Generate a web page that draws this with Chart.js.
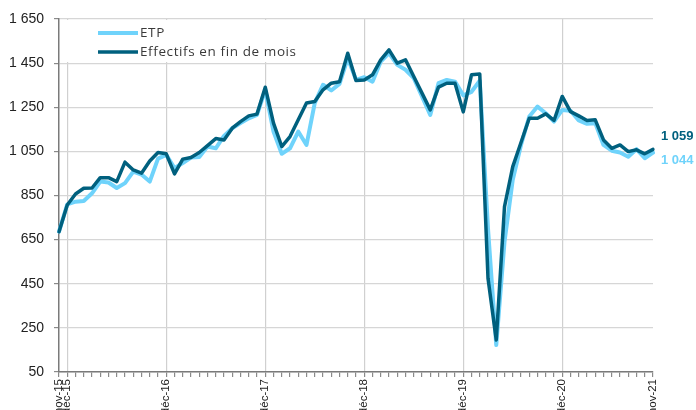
<!DOCTYPE html>
<html>
<head>
<meta charset="utf-8">
<script src="https://cdn.jsdelivr.net/npm/chart.js@4"></script>
<style>
  body { margin: 0; background: #fff; overflow: hidden; }
</style>
</head>
<body>
<canvas id="my-chart" width="696" height="430"></canvas>
<script>
const monthNames = ["janv", "févr", "mars", "avr", "mai", "juin", "juil", "août", "sept", "oct", "nov", "déc"];
const shownLabels = ["nov-15", "déc-15", "déc-16", "déc-17", "déc-18", "déc-19", "déc-20", "nov-21"];

// monthly labels nov-15 .. nov-21
let months = [];
for (let y = 15; y <= 21; y++) {
  for (let m = 0; m < 12; m++) {
    if (y === 15 && m < 10) continue;
    if (y === 21 && m > 10) continue;
    months.push(monthNames[m] + "-" + y);
  }
}

const etp = [
  686, 810, 822, 825, 860, 913, 909, 884, 906, 958, 945, 913,
  1017, 1034, 974, 997, 1022, 1024, 1072, 1064, 1120, 1155, 1178, 1200,
  1215, 1329, 1140, 1039, 1064, 1140, 1079, 1269, 1352, 1326, 1356, 1473,
  1374, 1386, 1366, 1457, 1495, 1442, 1420, 1382, 1299, 1215, 1359, 1374,
  1366, 1304, 1320, 1370, 700, 172, 640, 921, 1079, 1208, 1253, 1223,
  1185, 1238, 1234, 1190, 1175, 1178, 1079, 1053, 1045, 1026, 1060, 1019,
  1044
];

const effectifs = [
  686, 807, 857, 883, 884, 931, 931, 913, 1001, 966, 951, 1006,
  1045, 1039, 948, 1015, 1022, 1045, 1076, 1108, 1102, 1155, 1185, 1211,
  1219, 1341, 1178, 1072, 1117, 1193, 1269, 1276, 1329, 1359, 1366, 1495,
  1371, 1374, 1397, 1465, 1510, 1450, 1465, 1389, 1314, 1238, 1341, 1359,
  1359, 1229, 1397, 1401, 475, 195, 800, 981, 1090, 1200, 1200, 1220,
  1190, 1299, 1230, 1211, 1190, 1193, 1102, 1064, 1079, 1049, 1057, 1039,
  1059
];

const lightBlue = "#6fd3fb";
const darkBlue = "#00607e";
const narrow = "'Liberation Sans Narrow', 'Liberation Sans', Arial, sans-serif";

function spaced(v) {
  return String(v).replace(/\B(?=(\d{3})+(?!\d))/g, " ");
}

// legend box drawn inside the plot, on top of the grid
const insideLegend = {
  id: "insideLegend",
  beforeDatasetsDraw(chart) {
    const ctx = chart.ctx;
    const area = chart.chartArea;
    ctx.save();
    ctx.fillStyle = "#fff";
    ctx.fillRect(area.left + 2, area.top + 1, 262, 42);
    const items = [chart.data.datasets[0], chart.data.datasets[1]];
    items.forEach((ds, i) => {
      const y = area.top + 14 + i * 19;
      ctx.strokeStyle = ds.borderColor;
      ctx.lineWidth = ds.borderWidth;
      ctx.beginPath();
      ctx.moveTo(area.left + 39, y);
      ctx.lineTo(area.left + 79, y);
      ctx.stroke();
      ctx.fillStyle = "#3a3a3a";
      ctx.font = "13.5px 'Open Sans', Lato, sans-serif";
      ctx.letterSpacing = "0.6px";
      ctx.textBaseline = "middle";
      ctx.textAlign = "left";
      ctx.fillText(ds.label, area.left + 81, y);
    });
    ctx.restore();
  }
};

// last values written at the right end of the lines
const endValues = {
  id: "endValues",
  afterDatasetsDraw(chart) {
    const ctx = chart.ctx;
    const yScale = chart.scales.y;
    const x = chart.chartArea.right + 8;
    const lastDark = effectifs[effectifs.length - 1];
    const lastLight = etp[etp.length - 1];
    ctx.save();
    ctx.font = "bold 13px " + narrow;
    ctx.textAlign = "left";
    ctx.textBaseline = "middle";
    ctx.fillStyle = darkBlue;
    ctx.fillText(spaced(lastDark), x, yScale.getPixelForValue(lastDark) - 13);
    ctx.fillStyle = lightBlue;
    ctx.fillText(spaced(lastLight), x, yScale.getPixelForValue(lastLight) + 8);
    ctx.restore();
  }
};

const ctx = document.getElementById("my-chart").getContext("2d");
const myChart = new Chart(ctx, {
  type: "line",
  data: {
    labels: months,
    datasets: [
      {
        label: "ETP",
        data: etp,
        borderColor: lightBlue,
        borderWidth: 4,
        order: 2
      },
      {
        label: "Effectifs en fin de mois",
        data: effectifs,
        borderColor: darkBlue,
        borderWidth: 3.5,
        order: 1
      }
    ]
  },
  options: {
    responsive: false,
    animation: false,
    devicePixelRatio: 1,
    layout: { padding: { top: 19, right: 43, left: 0, bottom: 0 } },
    elements: {
      point: { radius: 0 },
      line: { tension: 0, borderJoinStyle: "round", borderCapStyle: "round" }
    },
    plugins: {
      legend: { display: false },
      tooltip: { enabled: false }
    },
    scales: {
      x: {
        offset: false,
        afterFit(scale) { scale.height = 58; },
        border: { color: "#7a7a7a", width: 1.5 },
        grid: {
          color: c => (c.tick && c.index > 0 && c.index < months.length - 1 && months[c.index].startsWith("déc")) ? "#d0d0d0" : "rgba(0,0,0,0)",
          tickColor: "#8a8a8a",
          tickLength: 5,
          lineWidth: 1.2
        },
        ticks: {
          autoSkip: false,
          minRotation: 90,
          maxRotation: 90,
          padding: 2,
          color: "#222",
          font: { family: narrow, size: 11.5 },
          callback: function (value, index) {
            const lab = months[index];
            return shownLabels.includes(lab) ? lab : "";
          }
        }
      },
      y: {
        min: 50,
        max: 1650,
        afterFit(scale) { scale.width = 59; },
        border: { color: "#7a7a7a", width: 1.5 },
        grid: {
          color: "#d6d6d6",
          tickColor: "#8a8a8a",
          tickLength: 5,
          lineWidth: 1.2
        },
        ticks: {
          stepSize: 200,
          padding: 10,
          color: "#222",
          font: { family: narrow, size: 14 },
          callback: v => spaced(v)
        }
      }
    }
  },
  plugins: [insideLegend, endValues]
});
</script>
</body>
</html>
